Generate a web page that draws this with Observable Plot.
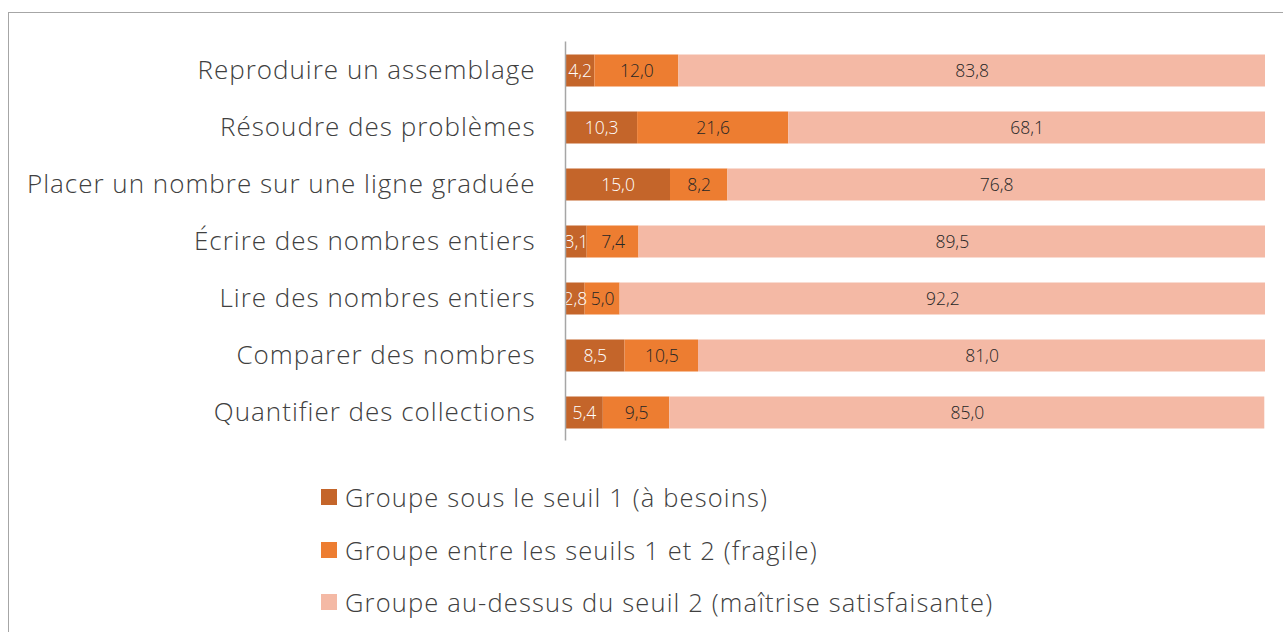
<!DOCTYPE html>
<html><head><meta charset="utf-8">
<script src="https://cdn.jsdelivr.net/npm/d3@7"></script>
<script src="https://cdn.jsdelivr.net/npm/@observablehq/plot@0.6"></script>
<style>
body{margin:0;background:#fff;font-family:"Open Sans",sans-serif;font-weight:300;}
#frame{position:absolute;left:8px;top:12px;width:1400px;height:700px;border:1px solid #a6a6a6;}
#chart{position:absolute;left:0;top:0;}
#legend{position:absolute;left:321px;top:471px;}
.item{display:flex;align-items:center;height:52.5px;font-size:25.5px;letter-spacing:1.15px;color:#404040;}
.sw{width:16px;height:16px;margin-right:8px;}
</style></head><body>
<div id="frame"></div>
<div id="chart"></div>
<div id="legend"></div>
<script>
const categories = ["Reproduire un assemblage","Résoudre des problèmes","Placer un nombre sur une ligne graduée","Écrire des nombres entiers","Lire des nombres entiers","Comparer des nombres","Quantifier des collections"];
const groups = ["Groupe sous le seuil 1 (à besoins)","Groupe entre les seuils 1 et 2 (fragile)","Groupe au-dessus du seuil 2 (maîtrise satisfaisante)"];
const sousSeuil1 = [4.2,10.3,15.0,3.1,2.8,8.5,5.4];
const entreSeuils = [12.0,21.6,8.2,7.4,5.0,10.5,9.5];
const dessusSeuil2 = [83.8,68.1,76.8,89.5,92.2,81.0,85.0];
const colors = ["#c4652a","#ed7d31","#f4b9a5"];
const textColors = ["#ffffff","#262626","#262626"];

const series = [sousSeuil1, entreSeuils, dessusSeuil2];
const data = [];
categories.forEach((c,i)=>series.forEach((s,g)=>data.push({cat:c, group:groups[g], gi:g, value:s[i]})));
const fmt = v => d3.format(".1f")(v).replace(".", ",");

const plot = Plot.plot({
  width:1283, height:460,
  marginLeft:565, marginRight:18, marginTop:41.5, marginBottom:19.5,
  style:{fontFamily:"'Open Sans', sans-serif", fontWeight:300, background:"transparent"},
  x:{domain:[0,100], axis:null},
  y:{domain:categories, padding:0, label:null, tickSize:0},
  color:{domain:groups, range:colors},
  marks:[
    Plot.barX(data, Plot.stackX({x:"value", y:"cat", fill:"group", order:"gi", insetTop:12.5, insetBottom:12.5})),
    Plot.textX(data, Plot.stackX({x:"value", y:"cat", z:"group", order:"gi", text:d=>fmt(d.value), fill:d=>textColors[d.gi], fontSize:17.5})),
    Plot.ruleX([0], {stroke:"#a6a6a6", strokeWidth:1.5}),
    Plot.axisY({tickSize:0, tickPadding:30, fontSize:26, color:"#404040", label:null})
  ]
});
plot.querySelectorAll("g[aria-label='y-axis tick label'] text").forEach(t=>t.style.letterSpacing="1px");
document.getElementById("chart").append(plot);
const lg = document.getElementById("legend");
groups.forEach((g,i)=>{
  const d=document.createElement("div"); d.className="item";
  d.innerHTML=`<span class="sw" style="background:${colors[i]}"></span><span>${g}</span>`;
  lg.append(d);
});
</script>
</body></html>
